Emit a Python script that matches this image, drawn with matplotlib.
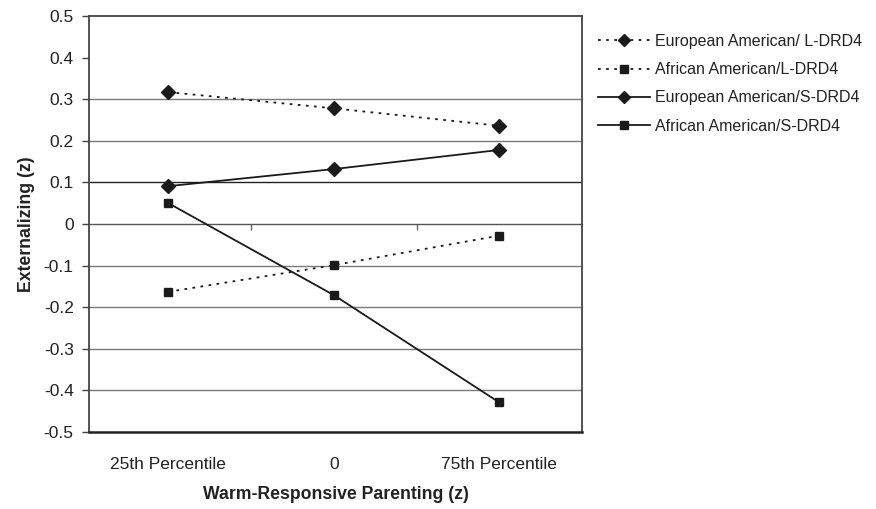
import matplotlib.pyplot as plt

plt.rcParams['font.family'] = ['Liberation Sans', 'DejaVu Sans']

categories = ["25th Percentile", "0", "75th Percentile"]
ea_long = [0.317, 0.278, 0.236]
aa_long = [-0.163, -0.099, -0.028]
ea_short = [0.091, 0.132, 0.178]
aa_short = [0.050, -0.171, -0.429]

yticks = [0.5, 0.4, 0.3, 0.2, 0.1, 0, -0.1, -0.2, -0.3, -0.4, -0.5]
ytick_labels = ["0.5", "0.4", "0.3", "0.2", "0.1", "0", "-0.1", "-0.2", "-0.3", "-0.4", "-0.5"]
grid_levels = [0.3, 0.2, 0.1, -0.1, -0.2, -0.3, -0.4]

fig = plt.figure(figsize=(8.76, 5.09), dpi=100)
ax = fig.add_axes([0.1016, 0.1513, 0.5628, 0.8173])

x = range(len(categories))

for g in grid_levels:
    ax.axhline(g, color='#222222' if g == 0.1 else '#7a7a7a', lw=1.0, zorder=1)

ax.plot(x, ea_long, ls=(0, (1.5, 3)), color='#1a1a1a', lw=1.3, marker='D', ms=7,
        label='European American/ L-DRD4', zorder=3)
ax.plot(x, aa_long, ls=(0, (1.5, 3)), color='#1a1a1a', lw=1.3, marker='s', ms=6,
        label='African American/L-DRD4', zorder=3)
ax.plot(x, ea_short, ls='-', color='#1a1a1a', lw=1.3, marker='D', ms=7,
        label='European American/S-DRD4', zorder=3)
ax.plot(x, aa_short, ls='-', color='#1a1a1a', lw=1.3, marker='s', ms=6,
        label='African American/S-DRD4', zorder=3)

ax.set_xlim(-0.48, 2.5)
ax.set_ylim(-0.5, 0.5)
ax.set_xticks(list(x))
ax.set_xticklabels(categories, fontsize=12.5, color='#222222')
ax.tick_params(axis='x', length=0, pad=18)
ax.set_yticks(yticks)
ax.set_yticklabels(ytick_labels, fontsize=12.5, color='#222222')
ax.tick_params(axis='y', direction='out', length=5, width=1, color='#444444', pad=6)

for side in ['left', 'right', 'top']:
    ax.spines[side].set_color('#444444')
    ax.spines[side].set_linewidth(1.3)
ax.spines['bottom'].set_color('#222222')
ax.spines['bottom'].set_linewidth(1.8)

# axis line at zero with ticks between categories
sec = ax.secondary_xaxis(0.5)
sec.set_xticks([0.5, 1.5])
sec.set_xticklabels([])
sec.tick_params(which='both', direction='in', length=4, width=1, color='#666666',
                labeltop=False, labelbottom=False)
for side in sec.spines:
    sec.spines[side].set_color('#555555')
    sec.spines[side].set_linewidth(1.0)

ax.set_xlabel('Warm-Responsive Parenting (z)', fontsize=12.7, fontweight='bold',
              color='#222222', labelpad=10)
ax.set_ylabel('Externalizing (z)', fontsize=12.7, fontweight='bold',
              color='#222222', labelpad=6)

ax.legend(loc='upper left', bbox_to_anchor=(0.675, 0.946), bbox_transform=fig.transFigure,
          frameon=False, fontsize=11.5, handlelength=3.3, handletextpad=0.3,
          labelspacing=0.83, borderaxespad=0, labelcolor='#222222', markerscale=0.85)

plt.savefig("out.png", dpi=100)
